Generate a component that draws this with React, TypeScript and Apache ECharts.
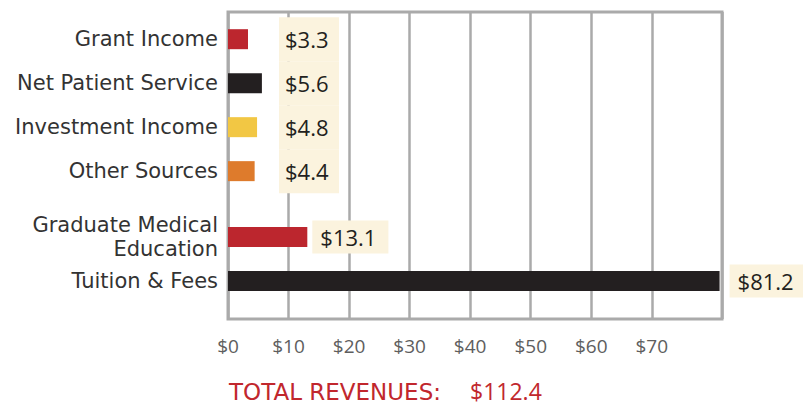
import React, { useEffect, useRef } from "react";
import * as echarts from "echarts";

const categories = [
  "Grant Income",
  "Net Patient Service",
  "Investment Income",
  "Other Sources",
  "Graduate Medical\nEducation",
  "Tuition & Fees",
];
const values = [3.3, 5.6, 4.8, 4.4, 13.1, 81.2];
const barColors = ["#BC262E", "#231F20", "#F2C744", "#DE7B2C", "#BC262E", "#231F20"];
const tickValues = [0, 10, 20, 30, 40, 50, 60, 70];
const totalLabel = "TOTAL REVENUES:";
const totalValue = "$112.4";

const FONT = "'Open Sans', Lato, sans-serif";
const WIDE = "'DejaVu Sans', 'Open Sans', sans-serif";
const BEIGE = "#FBF3DE";
const RED = "#C1272D";
const GROUPED = 4; // first rows share a label column, the rest sit a little lower

export default function App() {
  const ref = useRef<HTMLDivElement>(null);

  useEffect(() => {
    if (!ref.current) return;
    const chart = echarts.init(ref.current, null, { renderer: "svg" });

    // each row takes two half-slots; one extra half-slot separates the grouped rows
    const slotOf = (i: number) => 2 * i + (i >= GROUPED ? 1 : 0);
    const slotCount = slotOf(categories.length - 1) + 1;
    const yCats: string[] = new Array(slotCount).fill("");
    categories.forEach((c, i) => (yCats[slotOf(i)] = c));

    const groupLabel = {
      show: true,
      position: "insideLeft",
      distance: 5,
      offset: [46, 0],
      formatter: (p: any) => "$" + p.value,
      color: "#231F20",
      fontSize: 22,
      fontFamily: FONT,
      backgroundColor: BEIGE,
      width: 48,
      height: 44,
      lineHeight: 44,
      padding: [0, 6],
    };
    const sideLabel = (dist: number) => ({
      show: true,
      position: "right",
      distance: dist,
      formatter: (p: any) => "$" + p.value,
      color: "#231F20",
      fontSize: 22,
      fontFamily: FONT,
      backgroundColor: BEIGE,
      lineHeight: 21,
      padding: [6, 12, 6, 8],
    });

    const data: any[] = new Array(slotCount).fill("-");
    values.forEach((v, i) => {
      data[slotOf(i)] = {
        value: v,
        itemStyle: { color: barColors[i] },
        label: i < GROUPED ? groupLabel : sideLabel(i === values.length - 1 ? 10 : 5),
      };
    });

    const xMax = 81.6;
    const gridColors = tickValues.map(() => "#AAAAAA").concat(["rgba(0,0,0,0)", "#AAAAAA"]);

    chart.setOption({
      animation: false,
      title: [
        {
          left: 229,
          top: 380,
          padding: 0,
          text: totalLabel,
          textStyle: { fontSize: 23, fontWeight: "normal", fontFamily: WIDE, color: RED, lineHeight: 23 },
        },
        {
          left: 470,
          top: 379.5,
          padding: 0,
          text: totalValue,
          textStyle: { fontSize: 23, fontWeight: "normal", fontFamily: FONT, color: RED, lineHeight: 23 },
        },
      ],
      grid: [
        {
          left: 228,
          right: 81,
          top: 12,
          bottom: 88,
          show: true,
          borderColor: "#AAAAAA",
          borderWidth: 3,
        },
        {
          left: 228,
          right: 81,
          top: 28.2,
          bottom: 114.9,
        },
      ],
      xAxis: [
        {
          gridIndex: 0,
          type: "value",
          min: 0,
          max: xMax,
          interval: 10,
          axisLine: { show: false },
          axisTick: { show: false },
          splitLine: { show: true, lineStyle: { color: gridColors, width: 2.5 } },
          axisLabel: {
            margin: 17,
            fontSize: 19,
            color: "#5E5E5E",
            fontFamily: FONT,
            formatter: (v: number) => (tickValues.includes(v) ? "$" + v : ""),
          },
        },
        {
          gridIndex: 1,
          type: "value",
          min: 0,
          max: xMax,
          show: false,
        },
      ],
      yAxis: [
        { gridIndex: 0, type: "value", show: false },
        {
          gridIndex: 1,
          type: "category",
          inverse: true,
          data: yCats,
          axisLine: { show: false },
          axisTick: { show: false },
          splitLine: { show: false },
          axisLabel: {
            interval: 0,
            margin: 10,
            fontSize: 21,
            lineHeight: 24,
            color: "#333333",
            fontFamily: WIDE,
            align: "right",
          },
        },
      ],
      series: [
        {
          type: "bar",
          xAxisIndex: 1,
          yAxisIndex: 1,
          barWidth: 20,
          data,
          z: 3,
        },
      ],
    });

    return () => chart.dispose();
  }, []);

  return <div ref={ref} style={{ width: 803, height: 407, position: "absolute", left: 0, top: 0 }} />;
}
